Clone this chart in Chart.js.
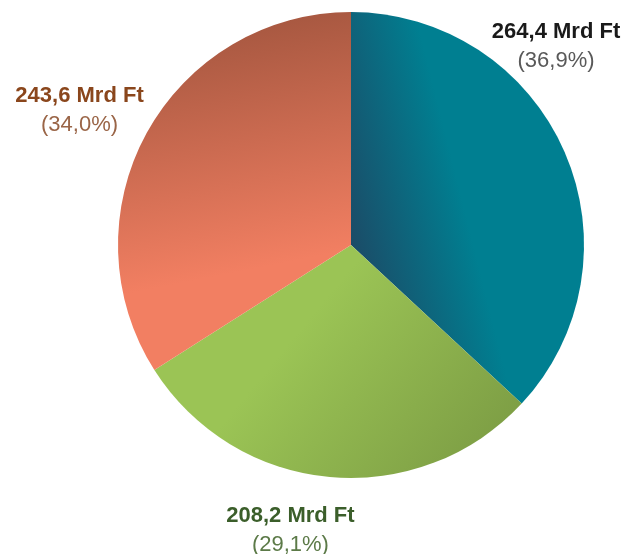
<!DOCTYPE html>
<html>
<head>
<meta charset="utf-8">
<script src="https://cdn.jsdelivr.net/npm/chart.js@4"></script>
<style>
  html, body { margin: 0; padding: 0; background: #fff; }
  #wrap { width: 638px; height: 554px; }
</style>
</head>
<body>
<div id="wrap"><canvas id="pieChart" width="638" height="554"></canvas></div>
<script>
// Adatok (Mrd Ft)
const categories = ['A', 'B', 'C'];
const values = [264.4, 208.2, 243.6];
const valueLabels = ['264,4 Mrd Ft', '208,2 Mrd Ft', '243,6 Mrd Ft'];
const percentLabels = ['(36,9%)', '(29,1%)', '(34,0%)'];

// szinek: [kezdo, zaro]
const gradColors = [
    ['#1c4a66', '#007f91'],
    ['#9bc455', '#7e9f45'],
    ['#a4563f', '#f27f62']
];
const solidColors = ['#007f91', '#9bc455', '#f27f62'];
// gradiens iranyok a kor kozeppontjahoz es sugarahoz kepest
const gradDirs = [
    [0, 0.064, 0.51, -0.064],
    [-0.22, 0.365, 0.51, 0.966],
    [-0.43, -1.0, -0.22, 0.064]
];
const titleColors = ['#1a1a1a', '#3b5e2a', '#8a461c'];
const pctColors = ['#595959', '#5c7a48', '#9a6547'];
// cimke helye (sugar egysegben)
const labelPos = [[0.88, -0.863], [-0.26, 1.215], [-1.165, -0.588]];

function sliceColor(context) {
    const chart = context.chart;
    const i = context.dataIndex;
    const area = chart.chartArea;
    if (!area) return solidColors[i];
    const cx = (area.left + area.right) / 2;
    const cy = (area.top + area.bottom) / 2;
    const r = Math.min(area.right - area.left, area.bottom - area.top) / 2;
    const d = gradDirs[i];
    const g = chart.ctx.createLinearGradient(cx + d[0] * r, cy + d[1] * r, cx + d[2] * r, cy + d[3] * r);
    g.addColorStop(0, gradColors[i][0]);
    g.addColorStop(1, gradColors[i][1]);
    return g;
}

const labelPlugin = {
    id: 'sliceLabels',
    afterDatasetsDraw(chart) {
        const ctx = chart.ctx;
        const arcs = chart.getDatasetMeta(0).data;
        ctx.save();
        ctx.textAlign = 'center';
        ctx.textBaseline = 'alphabetic';
        arcs.forEach((arc, i) => {
            const x = arc.x + labelPos[i][0] * arc.outerRadius;
            const y = arc.y + labelPos[i][1] * arc.outerRadius;
            ctx.font = 'bold 22px "Liberation Sans", Arial, sans-serif';
            ctx.fillStyle = titleColors[i];
            ctx.fillText(valueLabels[i], x, y - 6);
            ctx.font = '22px "Liberation Sans", Arial, sans-serif';
            ctx.fillStyle = pctColors[i];
            ctx.fillText(percentLabels[i], x, y + 23);
        });
        ctx.restore();
    }
};

new Chart(document.getElementById('pieChart'), {
    type: 'pie',
    data: {
        labels: categories,
        datasets: [{
            data: values,
            backgroundColor: sliceColor,
            borderWidth: 0
        }]
    },
    options: {
        responsive: false,
        animation: false,
        layout: {
            padding: { top: 12, bottom: 76, left: 118, right: 54 }
        },
        plugins: {
            legend: { display: false },
            tooltip: { enabled: false }
        }
    },
    plugins: [labelPlugin]
});
</script>
</body>
</html>
